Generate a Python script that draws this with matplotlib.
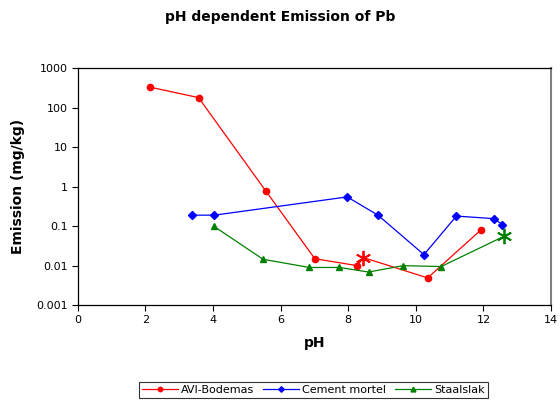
import matplotlib
matplotlib.use("Agg")
import matplotlib.pyplot as plt
from matplotlib.ticker import FixedLocator, FixedFormatter, NullLocator

# pH vs. Pb emission (mg/kg) per material
avi_ph  = [2.14, 3.57, 5.57, 7.01, 8.27, 8.45, 10.35, 11.93]
avi_em  = [330, 180, 0.76, 0.015, 0.010, 0.016, 0.0049, 0.081]
avi_star = 5   # index of the highlighted point

cem_ph = [3.37, 4.04, 7.97, 8.88, 10.24, 11.2, 12.32, 12.55]
cem_em = [0.19, 0.19, 0.55, 0.19, 0.019, 0.18, 0.155, 0.11]

sta_ph = [4.02, 5.48, 6.85, 7.74, 8.6, 9.63, 10.75, 12.6]
sta_em = [0.10, 0.0145, 0.009, 0.009, 0.0069, 0.010, 0.0095, 0.055]
sta_star = 7

x_ticks = [0, 2, 4, 6, 8, 10, 12, 14]
y_ticks = [0.001, 0.01, 0.1, 1, 10, 100, 1000]
y_labels = ["0.001", "0.01", "0.1", "1", "10", "100", "1000"]

STAR = (6, 2, 0)

fig = plt.figure(figsize=(5.6, 4.01), dpi=100)
ax = fig.add_axes([0.139, 0.239, 0.845, 0.591])

ax.plot(avi_ph, avi_em, color="red", lw=0.9, marker="o", ms=4.5,
        markevery=[i for i in range(len(avi_ph)) if i != avi_star],
        label="AVI-Bodemas")
ax.plot([avi_ph[avi_star]], [avi_em[avi_star]], ls="none", marker=STAR,
        ms=11, mew=1.3, color="red")

ax.plot(cem_ph, cem_em, color="blue", lw=0.9, marker="D", ms=4,
        label="Cement mortel")

ax.plot(sta_ph, sta_em, color="green", lw=0.9, marker="^", ms=5,
        markevery=[i for i in range(len(sta_ph)) if i != sta_star],
        label="Staalslak")
ax.plot([sta_ph[sta_star]], [sta_em[sta_star]], ls="none", marker=STAR,
        ms=11, mew=1.3, color="green")

ax.set_yscale("log")
ax.set_xlim(0, 14)
ax.set_ylim(0.001, 1000)
ax.xaxis.set_major_locator(FixedLocator(x_ticks))
ax.yaxis.set_major_locator(FixedLocator(y_ticks))
ax.yaxis.set_major_formatter(FixedFormatter(y_labels))
ax.yaxis.set_minor_locator(NullLocator())
ax.tick_params(axis="both", direction="out", length=4, width=0.8,
               labelsize=8, pad=3)

for side in ["left", "bottom", "top"]:
    ax.spines[side].set_color("black")
    ax.spines[side].set_linewidth(0.9)
ax.spines["right"].set_color("#808080")
ax.spines["right"].set_linewidth(1.5)

ax.set_xlabel("pH", fontsize=10, fontweight="bold", labelpad=8)
ax.set_ylabel("Emission (mg/kg)", fontsize=10, fontweight="bold", labelpad=8)
fig.text(0.5, 0.957, "pH dependent Emission of Pb", ha="center", va="center",
         fontsize=10, fontweight="bold")

leg = fig.legend(loc="center", bbox_to_anchor=(0.56, 0.0275), ncol=3,
                 fontsize=8, frameon=True, fancybox=False, handlelength=3.2,
                 handletextpad=0.3, columnspacing=0.8, borderpad=0.3,
                 markerscale=0.7)
leg.get_frame().set_edgecolor("black")
leg.get_frame().set_linewidth(0.8)

fig.savefig("out.png", dpi=100)
